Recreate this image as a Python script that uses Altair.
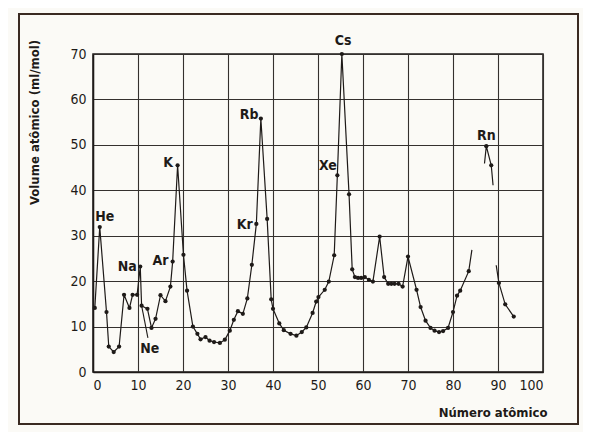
import altair as alt
import pandas as pd

# Atomic number (as drawn) and atomic volume (ml/mol)
seg1_x = [0.4, 1.5, 3.0, 3.5, 4.6, 5.8, 6.9, 8.1, 8.8, 9.8, 10.5, 10.8, 12.1, 13.0, 13.9, 15.0, 16.1, 17.2, 17.7,
          18.8, 20.1, 20.9, 22.2, 23.2, 23.9, 25.0, 25.9, 26.9, 28.2, 29.3, 30.4, 31.3, 32.2, 33.3, 34.3, 35.3,
          36.3, 37.3, 38.7, 39.6, 40.0, 41.4, 42.4, 43.9, 45.2, 46.4, 47.4, 48.8, 49.6, 50.1, 51.5, 52.4, 53.6,
          54.3, 55.3, 56.9, 57.6, 58.2, 58.9, 59.6, 60.4, 61.3, 62.2, 63.7, 64.7, 65.6, 66.3, 67.0, 67.9, 68.8,
          70.0, 71.9, 72.8, 73.9, 75.0, 75.9, 76.9, 77.8, 78.9, 80.0, 80.9, 81.6, 83.5, 84.2]
seg1_y = [14.1, 31.9, 13.2, 5.6, 4.4, 5.6, 17.0, 14.1, 17.0, 17.0, 23.2, 14.6, 13.9, 9.7, 11.7, 16.9, 15.6, 18.8, 24.3,
          45.5, 25.8, 17.9, 10.0, 8.4, 7.2, 7.7, 6.9, 6.6, 6.4, 7.1, 9.1, 11.5, 13.4, 12.8, 16.2, 23.6,
          32.6, 55.8, 33.7, 16.0, 13.9, 10.7, 9.2, 8.4, 8.0, 8.8, 9.8, 13.0, 15.5, 16.5, 18.1, 19.9, 25.7,
          43.3, 70.0, 39.1, 22.6, 20.9, 20.7, 20.7, 20.9, 20.3, 19.9, 29.8, 20.9, 19.4, 19.4, 19.4, 19.4, 18.8,
          25.4, 18.1, 14.3, 11.3, 9.7, 9.1, 8.8, 9.0, 9.7, 13.2, 16.8, 17.9, 22.2, 26.9]
seg1_dot = [True] * (len(seg1_x) - 1) + [False]

seg2_x = [87.0, 87.4, 88.5, 88.9]
seg2_y = [45.9, 49.7, 45.5, 41.1]
seg2_dot = [False, True, True, False]

seg3_x = [89.6, 90.2, 91.6, 93.5]
seg3_y = [23.5, 19.6, 14.9, 12.2]
seg3_dot = [False, True, True, True]

label_text = ["He", "Na", "Ne", "Ar", "K", "Rb", "Kr", "Xe", "Cs", "Rn"]
label_x = [2.6, 7.6, 12.6, 15.0, 16.7, 34.7, 33.7, 52.2, 55.6, 87.4]
label_y = [34.1, 23.2, 5.0, 24.5, 46.0, 56.5, 32.4, 45.3, 72.9, 51.9]

leader_x = [10.8]
leader_y = [14.6]
leader_x2 = [12.2]
leader_y2 = [7.5]

rows = []
for sid, xs, ys, ds in [(1, seg1_x, seg1_y, seg1_dot), (2, seg2_x, seg2_y, seg2_dot), (3, seg3_x, seg3_y, seg3_dot)]:
    for i, (a, b, d) in enumerate(zip(xs, ys, ds)):
        rows.append({"seg": sid, "order": i, "z": a, "v": b, "dot": d})
df = pd.DataFrame(rows)
labels = pd.DataFrame({"t": label_text, "z": label_x, "v": label_y})
leader = pd.DataFrame({"z": leader_x, "v": leader_y, "z2": leader_x2, "v2": leader_y2})

FONT = "Liberation Sans Narrow, DejaVu Sans Condensed, Roboto, sans-serif"
INK = "#1e1a18"

xs = alt.Scale(domain=[0, 100], nice=False)
ys = alt.Scale(domain=[0, 70], nice=False)

xaxis = alt.Axis(values=list(range(0, 101, 10)), ticks=False, labelPadding=6, labelFont=FONT,
                 labelFontSize=14, labelColor=INK, grid=True, gridColor="#34302e", gridWidth=1.1,
                 domainColor=INK, domainWidth=1.5, title="Número atômico", titleFont=FONT,
                 titleFontSize=13, titleFontWeight="bold", titleColor=INK, titleAnchor="end",
                 titleAlign="right", titleX=454, titleY=44, titleBaseline="alphabetic")
yaxis = alt.Axis(values=list(range(0, 71, 10)), ticks=False, labelPadding=7, labelFont=FONT,
                 labelFontSize=14, labelColor=INK, grid=True, gridColor="#34302e", gridWidth=1.1,
                 domainColor=INK, domainWidth=1.5, title="Volume atômico (ml/mol)", titleFont=FONT,
                 titleFontSize=13, titleFontWeight="bold", titleColor=INK, titleAngle=270,
                 titleX=-59, titleY=68, titleAlign="center", titleBaseline="middle")

base = alt.Chart(df)
lines = base.mark_line(color=INK, strokeWidth=1.2).encode(
    x=alt.X("z:Q", scale=xs, axis=xaxis),
    y=alt.Y("v:Q", scale=ys, axis=yaxis),
    detail="seg:N",
    order="order:Q",
)
dots = base.transform_filter("datum.dot").mark_circle(color=INK, size=18, opacity=1).encode(
    x=alt.X("z:Q", scale=xs), y=alt.Y("v:Q", scale=ys)
)
lead = alt.Chart(leader).mark_rule(color=INK, strokeWidth=1.1).encode(
    x=alt.X("z:Q", scale=xs), y=alt.Y("v:Q", scale=ys), x2="z2:Q", y2="v2:Q"
)
texts = alt.Chart(labels).mark_text(font=FONT, fontSize=14, fontWeight="bold", color=INK,
                                    align="center", baseline="middle").encode(
    x=alt.X("z:Q", scale=xs), y=alt.Y("v:Q", scale=ys), text="t:N"
)
outer = alt.Chart(labels).mark_rect(fill=None, stroke="#3a2a22", strokeWidth=2).encode(
    x=alt.value(-74), x2=alt.value(485), y=alt.value(-40), y2=alt.value(370)
)

chart = alt.layer(outer, lines, lead, dots, texts).properties(
    width=450, height=318,
    autosize=alt.AutoSizeParams(type="none"),
    padding={"left": 85, "top": 46, "right": 40, "bottom": 60},
    background="#fbfaf6",
).configure_view(stroke=INK, strokeWidth=1.5)

chart.save("out.html", embed_options={"renderer": "svg", "actions": False})
